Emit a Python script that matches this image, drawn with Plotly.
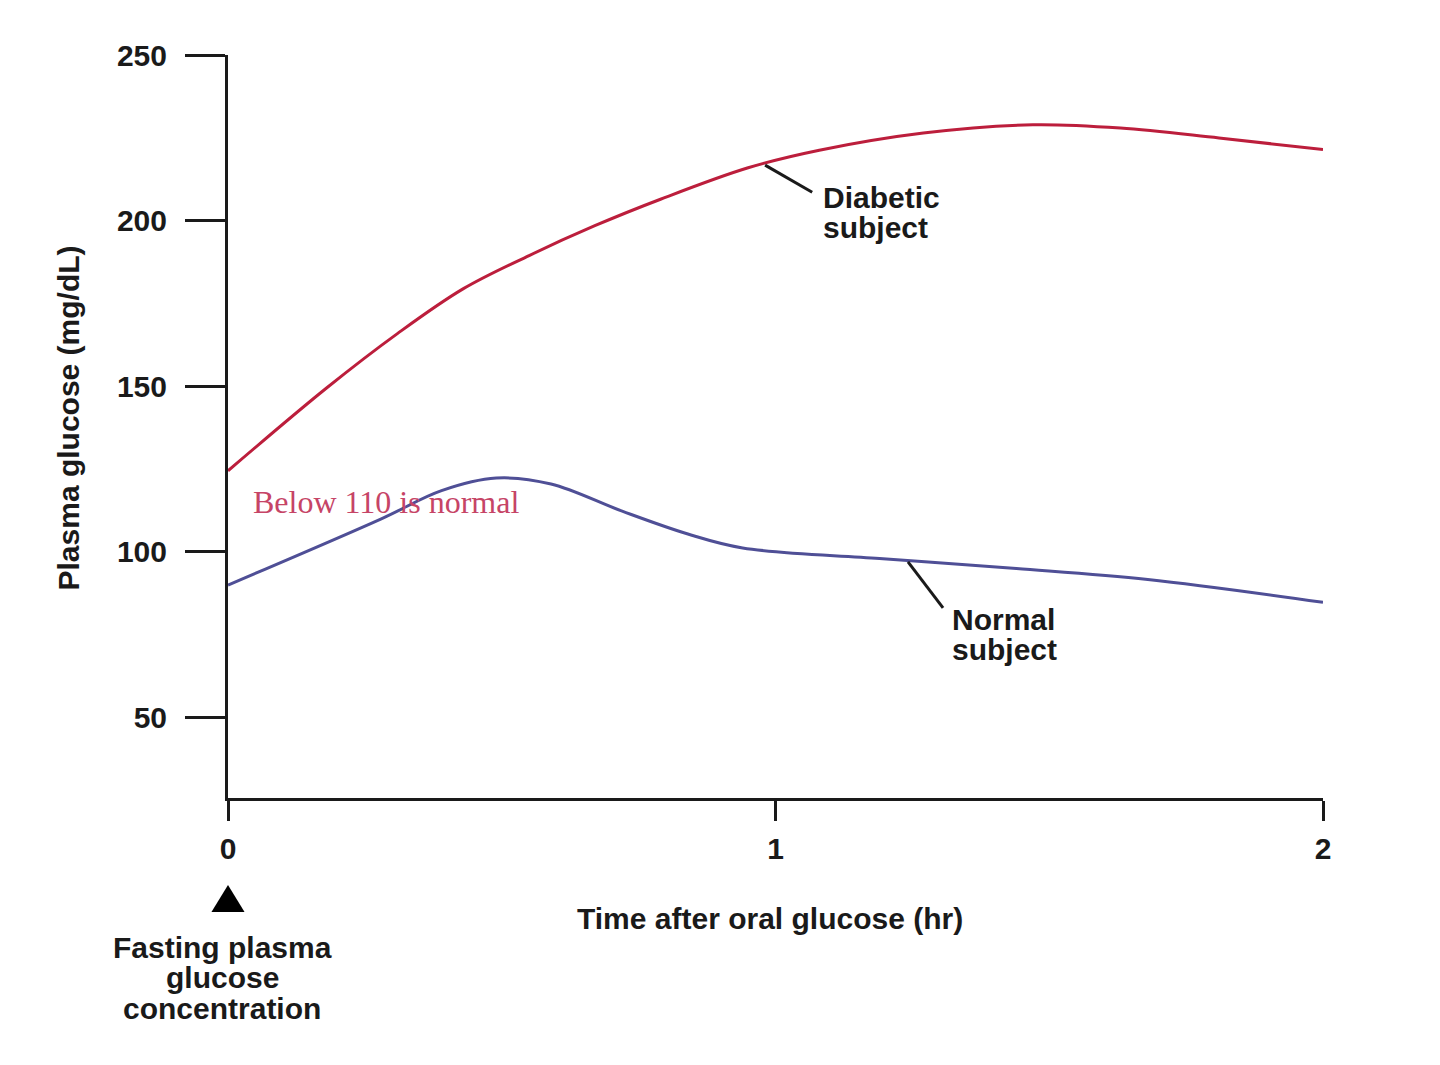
import plotly.graph_objects as go

# hours after oral glucose and plasma glucose (mg/dL)
time_diabetic = [0, 0.18, 0.31, 0.43, 0.55, 0.67, 0.79, 0.95, 1.08, 1.27, 1.47, 1.63, 1.81, 2.0]
glucose_diabetic = [124.5, 149.5, 166, 179.5, 189.5, 198.5, 206.5, 216, 221.3, 226.5, 229, 228, 225, 221.5]

time_normal = [0, 0.28, 0.39, 0.49, 0.59, 0.72, 0.84, 0.94, 1.19, 1.44, 1.68, 2.0]
glucose_normal = [90, 110, 118.5, 122.3, 120.5, 112.3, 105.4, 101.2, 98, 95, 91.7, 84.8]

x_ticks = [0, 1, 2]
y_ticks = [50, 100, 150, 200, 250]

SANS = "Liberation Sans, Arial, Helvetica, sans-serif"
SERIF = "Liberation Serif, Times New Roman, serif"
INK = "#1a1a1a"
bold = dict(family=SANS, size=30, color=INK, weight=700)

fig = go.Figure()
fig.add_trace(go.Scatter(x=time_diabetic, y=glucose_diabetic, mode="lines",
                         line=dict(color="#bc1e3c", width=3, shape="spline", smoothing=1),
                         name="Diabetic subject", hoverinfo="skip"))
fig.add_trace(go.Scatter(x=time_normal, y=glucose_normal, mode="lines",
                         line=dict(color="#4f4f96", width=3, shape="spline", smoothing=1),
                         name="Normal subject", hoverinfo="skip"))

# leader lines from curves to labels
fig.add_shape(type="line", x0=0.981, y0=216.8, x1=1.067, y1=208.6,
              line=dict(color=INK, width=3))
fig.add_shape(type="line", x0=1.242, y0=97.0, x1=1.306, y1=83.1,
              line=dict(color=INK, width=3))

# triangle marker under t = 0 (paper units)
fig.add_shape(type="path", xref="paper", yref="paper",
              path="M -0.0151,-0.1534 L 0.0151,-0.1534 L 0,-0.1171 Z",
              fillcolor="black", line=dict(width=0))


def label_lines(lines, x, y, step):
    for i, txt in enumerate(lines):
        fig.add_annotation(x=x, y=y - i * step, xref="x", yref="y", text=txt,
                           showarrow=False, xanchor="left", yanchor="middle",
                           font=bold)


label_lines(["Diabetic", "subject"], 1.083, 207.0, 9.1)
label_lines(["Normal", "subject"], 1.318, 79.6, 9.1)

for i, txt in enumerate(["Fasting plasma", "glucose", "concentration"]):
    fig.add_annotation(x=0, y=0, xref="x", yref="paper", yshift=-149 - 30.5 * i,
                       xshift=-6, text=txt, showarrow=False, xanchor="center",
                       yanchor="middle", font=bold)

fig.add_annotation(x=0.042, y=115.0, xref="x", yref="y", text="Below 110 is normal",
                   showarrow=False, xanchor="left", yanchor="middle",
                   font=dict(family=SERIF, size=32, color="#c64466"))

fig.add_annotation(x=0.5, y=0, xref="paper", yref="paper", yshift=-120, xshift=-6,
                   text="Time after oral glucose (hr)", showarrow=False,
                   xanchor="center", yanchor="middle", font=bold)
fig.add_annotation(x=0, y=0.5, xref="paper", yref="paper", xshift=-160, yshift=8,
                   text="Plasma glucose (mg/dL)", textangle=-90, showarrow=False,
                   xanchor="center", yanchor="middle", font=bold)

fig.update_xaxes(range=[0, 2], tickvals=x_ticks, ticktext=[str(t) for t in x_ticks],
                 showline=True, linecolor=INK, linewidth=3,
                 ticks="outside", ticklen=20, tickwidth=3, tickcolor=INK,
                 ticklabelstandoff=2,
                 showgrid=False, zeroline=False, tickfont=bold)
fig.update_yaxes(range=[25.7, 250.05], tickvals=y_ticks,
                 showline=True, linecolor=INK, linewidth=3,
                 ticks="outside", ticklen=40, tickwidth=3, tickcolor=INK,
                 ticklabelstandoff=12,
                 showgrid=False, zeroline=False, tickfont=bold)

fig.update_layout(width=1440, height=1065, showlegend=False,
                  margin=dict(l=220, r=125, t=47, b=275, autoexpand=False),
                  paper_bgcolor="white", plot_bgcolor="white")

fig.write_html("out.html")
